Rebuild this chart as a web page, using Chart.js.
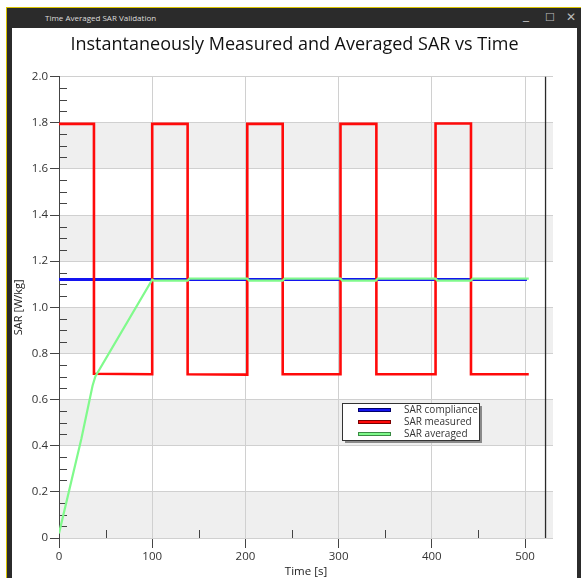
<!DOCTYPE html>
<html>
<head>
<meta charset="utf-8">
<script src="https://cdn.jsdelivr.net/npm/chart.js@4.4.1/dist/chart.umd.min.js"></script>
<style>
body{margin:0;width:581px;height:578px;position:relative;background:#fff;overflow:hidden;font-family:'Open Sans',sans-serif}
#win{position:absolute;left:6px;top:7px;right:0;bottom:-10px;border-left:1px solid #d8c200;border-top:1px solid #d8c200;background:#2b2b2b}
#client{position:absolute;left:5px;top:20px;right:4px;bottom:0;background:#fff}
#wtitle{position:absolute;left:38px;top:4px;font-size:8px;color:#ddd}
.btn{position:absolute;top:2px;color:#bbb;font-family:'DejaVu Sans';font-size:12px}
#chart{position:absolute;left:0;top:0;z-index:2}
</style>
</head>
<body>
<div id="win">
  <div id="wtitle">Time Averaged SAR Validation</div>
  <div class="btn" style="left:516px;top:0px">_</div>
  <div class="btn" style="left:538px;font-size:11px;top:3px">☐</div>
  <div class="btn" style="left:559px">✕</div>
  <div id="client"></div>
</div>
<canvas id="chart" width="581" height="578"></canvas>
<script>
// values
var complianceT=[0,502];
var complianceV=[1.12,1.12];

var measuredT=[0,37.5,37.5,100,100,138,138,202,202,240,240,302,302,340.5,340.5,404,404,442,442,504];
var measuredV=[1.795,1.795,0.712,0.71,1.795,1.795,0.71,0.708,1.795,1.795,0.71,0.71,1.795,1.795,0.71,0.71,1.797,1.797,0.71,0.71];

var averagedT=[0,24,36,39,100,102,138,140,202,204,240,242,302,304,340,342,404,406,442,444,504];
var averagedV=[0.02,0.43,0.66,0.70,1.12,1.116,1.116,1.124,1.124,1.116,1.116,1.124,1.124,1.116,1.116,1.124,1.124,1.116,1.116,1.124,1.124];

var cursorT=[522,522];
var cursorV=[0,2];

var yTicks=[0,0.2,0.4,0.6,0.8,1.0,1.2,1.4,1.6,1.8,2.0];
var xTicks=[0,100,200,300,400,500];

function pts(t,v){
	var out=[];
	for(var i=0;i<t.length;i++) out.push({x:t[i],y:v[i]});
	return out;
}

// grey bands, minor ticks, legend box
var decor={
	id:'decor',
	beforeDraw:function(c){
		var a=c.chartArea, y=c.scales.y, ctx=c.ctx;
		ctx.save();
		ctx.fillStyle='#efefef';
		for(var i=0;i<yTicks.length-1;i+=2){
			var t=y.getPixelForValue(yTicks[i+1]), b=y.getPixelForValue(yTicks[i]);
			ctx.fillRect(a.left,t,a.right-a.left,b-t);
		}
		ctx.restore();
	},
	beforeDatasetsDraw:function(c){
		var a=c.chartArea, x=c.scales.x, y=c.scales.y, ctx=c.ctx;
		ctx.save();
		ctx.strokeStyle='#444';
		ctx.lineWidth=1;
		ctx.beginPath();
		for(var i=0;i<yTicks.length-1;i++){
			for(var k=1;k<4;k++){
				var py=Math.round(y.getPixelForValue(yTicks[i]+k*0.05))+0.5;
				ctx.moveTo(a.left,py);ctx.lineTo(a.left+8,py);
			}
		}
		for(var j=0;j<xTicks.length;j++){
			var px=Math.round(x.getPixelForValue(xTicks[j]+50))+0.5;
			if(px>a.right) continue;
			ctx.moveTo(px,a.bottom);ctx.lineTo(px,a.bottom-8);
		}
		ctx.stroke();
		ctx.restore();
	},
	afterDraw:function(c){
		var ctx=c.ctx;
		var bx=342,by=403,bw=137,bh=37;
		ctx.save();
		ctx.fillStyle='#8a8a8a';
		ctx.fillRect(bx+3,by+3,bw,bh);
		ctx.fillStyle='#fff';
		ctx.fillRect(bx,by,bw,bh);
		ctx.strokeStyle='#333';
		ctx.lineWidth=1;
		ctx.strokeRect(bx+0.5,by+0.5,bw,bh);
		var items=c.data.datasets.filter(function(d){return d.inLegend;});
		items.sort(function(p,q){return p.legendPos-q.legendPos;});
		ctx.font='10px "Open Sans"';
		ctx.textBaseline='middle';
		for(var i=0;i<items.length;i++){
			var ly=by+7+i*12;
			ctx.fillStyle=items[i].borderColor;
			ctx.fillRect(bx+16,ly-2,33,4);
			ctx.strokeStyle=items[i].edge;
			ctx.strokeRect(bx+16.5,ly-1.5,32,3);
			ctx.fillStyle='#333';
			ctx.fillText(items[i].label,bx+62,ly);
		}
		ctx.restore();
	}
};

new Chart(document.getElementById('chart').getContext('2d'),{
	type:'line',
	data:{
		datasets:[{
			label:'SAR averaged',
			data:pts(averagedT,averagedV),
			borderColor:'#80fa8c',
			edge:'#3a8a44',
			borderWidth:2.2,
			pointRadius:0,
			order:0,
			inLegend:true,legendPos:2
		},{
			label:'SAR measured',
			data:pts(measuredT,measuredV),
			borderColor:'#ff0a0a',
			edge:'#7a0000',
			borderWidth:2.6,
			pointRadius:0,
			order:1,
			inLegend:true,legendPos:1
		},{
			label:'SAR compliance',
			data:pts(complianceT,complianceV),
			borderColor:'#1414f0',
			edge:'#00006a',
			borderWidth:3,
			pointRadius:0,
			order:2,
			inLegend:true,legendPos:0
		},{
			label:'cursor',
			data:pts(cursorT,cursorV),
			borderColor:'#2a2a2a',
			borderWidth:1.3,
			pointRadius:0,
			order:3
		}]
	},
	options:{
		responsive:false,
		animation:false,
		layout:{padding:{left:12,right:4,top:28,bottom:0}},
		plugins:{
			legend:{display:false},
			tooltip:{enabled:false},
			title:{
				display:true,
				text:'Instantaneously Measured and Averaged SAR vs Time',
				color:'#111',
				font:{family:'Open Sans',size:18,weight:'normal',lineHeight:1.2},
				padding:{top:6,bottom:21}
			}
		},
		scales:{
			x:{
				type:'linear',
				min:0,max:530,
				afterFit:function(s){s.height=40;},
				border:{display:false},
				grid:{
					color:function(c){return c.tick&&c.tick.value===0?'rgba(0,0,0,0)':'#d0d0d0';},
					tickColor:'#444',
					tickLength:10
				},
				ticks:{
					stepSize:100,includeBounds:false,
					color:'#333',padding:2,maxRotation:0,
					font:{family:'Open Sans',size:11.5}
				},
				title:{display:true,text:'Time [s]',color:'#222',
					font:{family:'Open Sans',size:11.5,lineHeight:1.1},padding:{top:0,bottom:0}}
			},
			y:{
				min:0,max:2,
				afterFit:function(s){s.width=47;},
				border:{display:true,color:'#444',width:1},
				grid:{color:'#d0d0d0',tickColor:'#444',tickLength:9},
				ticks:{
					stepSize:0.2,color:'#333',padding:2,
					font:{family:'Open Sans',size:11.5},
					callback:function(v){return v===0?'0':v.toFixed(1);}
				},
				title:{display:true,text:'SAR [W/kg]',color:'#222',
					font:{family:'Open Sans',size:11,lineHeight:1.2},padding:{top:0,bottom:0}}
			},
			y2:{
				position:'right',
				afterFit:function(s){s.width=24;},
				border:{display:false},
				grid:{display:false},
				ticks:{display:false}
			}
		}
	},
	plugins:[decor]
});
</script>
</body>
</html>
